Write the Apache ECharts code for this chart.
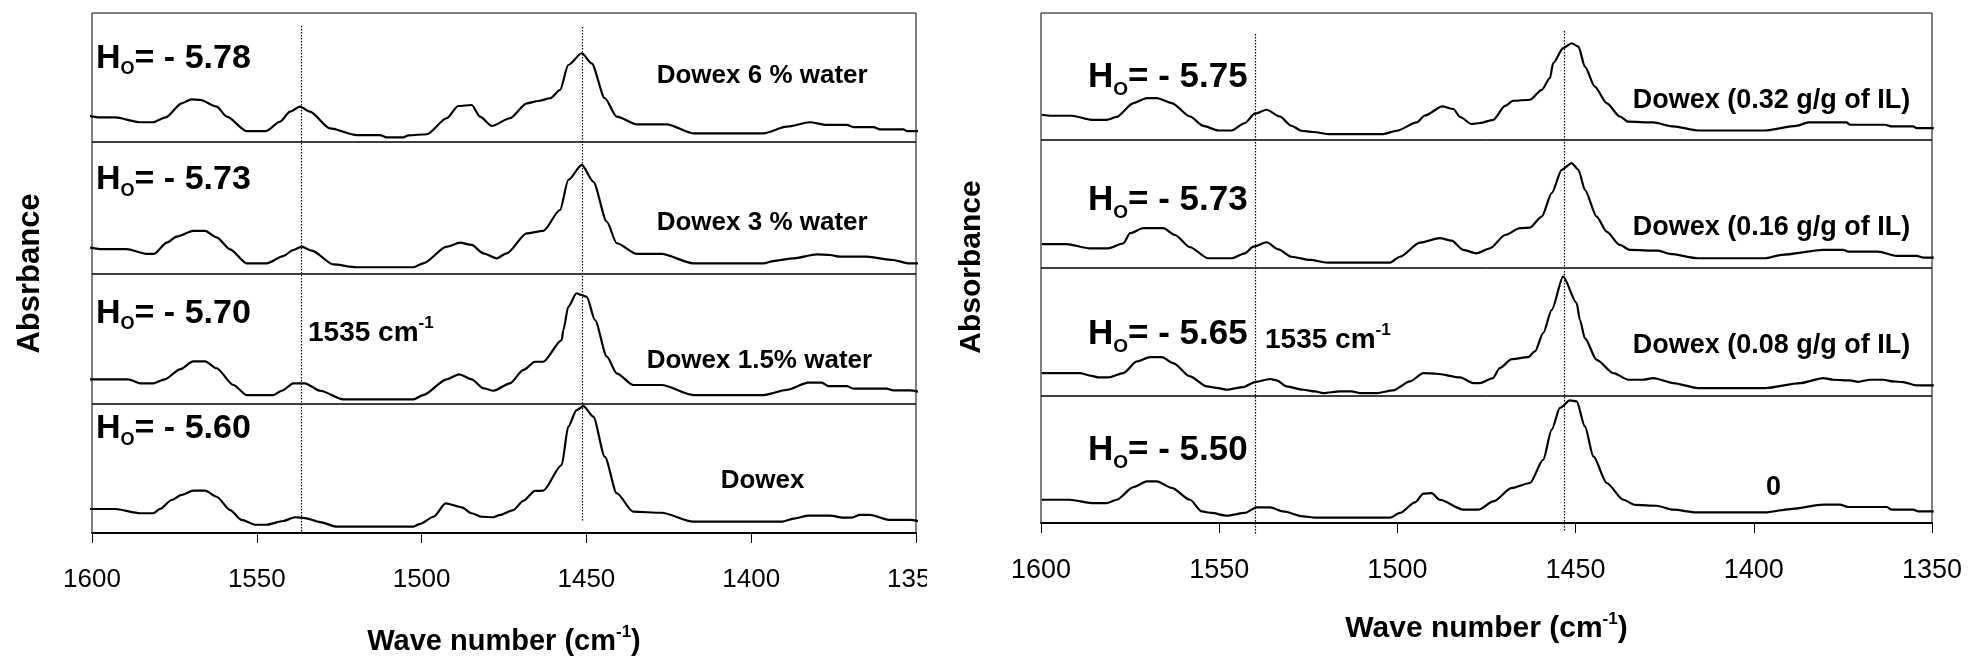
<!DOCTYPE html>
<html>
<head>
<meta charset="utf-8">
<script src="https://cdn.jsdelivr.net/npm/echarts@6/dist/echarts.min.js"></script>
<style>
  html, body { margin: 0; padding: 0; background: #fff; }
  #wrap { position: relative; width: 1970px; height: 659px; overflow: hidden; background: #fff; }
  #left { position: absolute; left: 0; top: 0; width: 927px; height: 659px; }
  #right { position: absolute; left: 927px; top: 0; width: 1043px; height: 659px; }
</style>
</head>
<body>
<div id="wrap"><div id="left"></div><div id="right"></div></div>
<script>
// wave number axis (cm-1), drawn high -> low
const WAVE_MIN = 1350, WAVE_MAX = 1600, WAVE_STEP = 50;

// left figure: Dowex with water, [wave number, absorbance (a.u., panel = 1)]
const dowex6 = [[1601.2,0.204],[1597.6,0.191],[1593.0,0.191],[1585.4,0.153],[1581.5,0.153],[1577.6,0.191],[1572.8,0.300],[1569.8,0.331],[1567.2,0.326],[1562.2,0.274],[1559.1,0.196],[1553.1,0.085],[1547.2,0.085],[1543.0,0.157],[1539.9,0.235],[1536.9,0.274],[1533.9,0.235],[1527.8,0.106],[1519.7,0.054],[1512.6,0.054],[1510.6,0.036],[1505.5,0.036],[1504.0,0.052],[1498.4,0.060],[1492.4,0.184],[1488.9,0.279],[1484.8,0.287],[1482.3,0.196],[1478.7,0.124],[1473.2,0.184],[1468.1,0.300],[1464.6,0.318],[1461.0,0.339],[1458.0,0.403],[1455.5,0.597],[1451.4,0.688],[1448.4,0.610],[1444.4,0.339],[1440.8,0.196],[1434.7,0.137],[1425.6,0.137],[1417.6,0.067],[1396.3,0.067],[1389.2,0.119],[1382.2,0.153],[1377.1,0.132],[1371.0,0.132],[1369.0,0.116],[1362.9,0.116],[1360.9,0.098],[1353.8,0.098],[1352.8,0.085],[1348.0,0.085]];
const dowex3 = [[1601.2,0.202],[1597.6,0.189],[1589.5,0.189],[1583.4,0.152],[1581.2,0.152],[1577.3,0.237],[1574.3,0.283],[1569.3,0.326],[1565.7,0.326],[1562.2,0.278],[1558.1,0.187],[1553.1,0.081],[1547.0,0.081],[1542.0,0.136],[1538.9,0.182],[1536.4,0.207],[1533.3,0.177],[1526.8,0.073],[1519.7,0.051],[1502.5,0.051],[1499.5,0.081],[1492.4,0.207],[1488.3,0.237],[1484.8,0.220],[1481.3,0.157],[1477.2,0.119],[1474.2,0.157],[1468.1,0.308],[1463.1,0.326],[1458.0,0.485],[1455.5,0.712],[1451.4,0.826],[1447.9,0.699],[1443.8,0.396],[1440.8,0.233],[1434.7,0.152],[1427.2,0.152],[1417.6,0.081],[1396.3,0.081],[1393.3,0.098],[1387.2,0.119],[1380.1,0.149],[1376.1,0.144],[1373.1,0.131],[1365.0,0.131],[1356.9,0.106],[1352.4,0.081],[1348.0,0.081]];
const dowex15 = [[1601.2,0.190],[1589.0,0.190],[1585.4,0.159],[1581.4,0.159],[1577.9,0.190],[1573.3,0.267],[1569.3,0.328],[1565.7,0.328],[1562.2,0.275],[1557.1,0.146],[1553.1,0.069],[1545.0,0.069],[1542.4,0.102],[1538.9,0.159],[1535.4,0.159],[1530.8,0.102],[1523.8,0.036],[1502.5,0.036],[1499.5,0.069],[1492.4,0.190],[1488.6,0.228],[1484.8,0.190],[1481.3,0.121],[1478.2,0.102],[1473.2,0.159],[1469.1,0.262],[1465.6,0.325],[1463.1,0.325],[1457.5,0.492],[1457.0,0.569],[1455.5,0.748],[1453.0,0.852],[1451.4,0.838],[1449.9,0.825],[1447.4,0.646],[1443.8,0.364],[1440.8,0.236],[1435.8,0.146],[1427.2,0.146],[1417.6,0.069],[1396.3,0.069],[1389.2,0.108],[1382.7,0.164],[1378.6,0.164],[1376.6,0.138],[1371.0,0.138],[1369.0,0.118],[1358.9,0.118],[1356.9,0.105],[1351.8,0.105],[1348.0,0.087]];
const dowexDry = [[1601.2,0.186],[1593.0,0.186],[1585.4,0.153],[1581.4,0.153],[1579.4,0.186],[1575.8,0.256],[1572.8,0.295],[1569.3,0.328],[1565.7,0.328],[1562.2,0.281],[1558.1,0.178],[1554.6,0.101],[1550.5,0.064],[1547.0,0.064],[1542.0,0.093],[1538.4,0.122],[1535.4,0.116],[1530.8,0.085],[1525.8,0.049],[1502.5,0.049],[1500.5,0.070],[1496.4,0.126],[1492.7,0.230],[1487.8,0.199],[1484.8,0.153],[1481.8,0.126],[1478.2,0.122],[1476.2,0.140],[1472.2,0.178],[1469.1,0.250],[1465.6,0.326],[1463.1,0.328],[1457.5,0.527],[1455.5,0.824],[1453.0,0.953],[1450.9,0.984],[1447.9,0.902],[1444.4,0.591],[1440.8,0.308],[1435.8,0.165],[1427.2,0.157],[1417.6,0.088],[1390.8,0.088],[1386.7,0.114],[1382.7,0.134],[1376.1,0.134],[1372.1,0.119],[1369.5,0.119],[1367.0,0.140],[1364.0,0.140],[1357.9,0.101],[1351.8,0.101],[1348.0,0.085]];

// right figure: Dowex loading in the ionic liquid
const il032 = [[1599.8,0.199],[1597.0,0.191],[1591.4,0.191],[1585.8,0.159],[1581.6,0.159],[1578.8,0.181],[1574.1,0.291],[1570.3,0.330],[1567.5,0.330],[1563.3,0.291],[1558.2,0.185],[1554.5,0.112],[1550.3,0.075],[1546.5,0.075],[1542.8,0.134],[1540.0,0.207],[1536.7,0.238],[1533.0,0.185],[1529.7,0.112],[1526.9,0.073],[1523.6,0.063],[1519.4,0.047],[1504.0,0.047],[1500.2,0.073],[1494.6,0.138],[1492.3,0.193],[1487.4,0.264],[1484.3,0.244],[1482.4,0.181],[1479.2,0.126],[1476.8,0.134],[1473.1,0.159],[1469.8,0.269],[1467.5,0.309],[1462.8,0.317],[1459.5,0.395],[1457.2,0.487],[1456.3,0.605],[1453.5,0.723],[1451.1,0.762],[1449.2,0.735],[1447.4,0.578],[1444.6,0.421],[1441.3,0.291],[1437.6,0.185],[1435.2,0.144],[1428.2,0.138],[1422.6,0.107],[1415.6,0.075],[1396.9,0.075],[1388.0,0.112],[1384.7,0.138],[1374.0,0.138],[1373.0,0.120],[1363.2,0.120],[1361.3,0.107],[1355.3,0.107],[1354.3,0.094],[1349.5,0.094]];
const il016 = [[1599.8,0.186],[1592.8,0.186],[1586.3,0.154],[1581.1,0.154],[1576.9,0.193],[1575.0,0.272],[1571.3,0.311],[1565.7,0.311],[1562.4,0.258],[1558.2,0.162],[1553.1,0.076],[1546.5,0.076],[1542.8,0.115],[1540.4,0.167],[1536.7,0.201],[1533.4,0.146],[1529.7,0.088],[1524.5,0.063],[1519.8,0.042],[1502.1,0.042],[1499.3,0.088],[1493.7,0.198],[1488.1,0.233],[1484.8,0.214],[1481.5,0.141],[1477.8,0.115],[1474.0,0.154],[1469.8,0.258],[1465.6,0.311],[1462.8,0.316],[1459.5,0.402],[1456.7,0.585],[1453.9,0.767],[1451.1,0.820],[1449.2,0.767],[1447.4,0.611],[1444.1,0.402],[1441.3,0.284],[1437.6,0.180],[1434.7,0.141],[1426.8,0.135],[1423.5,0.110],[1415.6,0.076],[1396.9,0.076],[1392.2,0.102],[1380.5,0.141],[1374.9,0.141],[1373.5,0.128],[1365.1,0.128],[1359.9,0.094],[1354.3,0.094],[1352.4,0.081],[1349.5,0.081]];
const il008 = [[1599.8,0.179],[1589.1,0.179],[1585.8,0.158],[1583.9,0.145],[1581.1,0.145],[1576.9,0.179],[1573.1,0.270],[1569.4,0.304],[1566.1,0.304],[1562.9,0.257],[1558.2,0.153],[1553.5,0.075],[1550.3,0.062],[1547.9,0.049],[1543.2,0.070],[1540.0,0.109],[1535.7,0.133],[1533.9,0.122],[1531.1,0.075],[1526.4,0.049],[1523.1,0.036],[1520.8,0.023],[1516.1,0.036],[1512.8,0.036],[1510.5,0.023],[1505.8,0.023],[1501.2,0.044],[1496.5,0.114],[1492.7,0.179],[1489.0,0.174],[1482.4,0.145],[1478.7,0.101],[1476.8,0.101],[1473.2,0.140],[1471.3,0.218],[1467.9,0.288],[1463.3,0.304],[1461.4,0.348],[1459.1,0.491],[1456.7,0.673],[1453.5,0.932],[1449.7,0.725],[1448.8,0.595],[1447.4,0.452],[1444.1,0.283],[1439.4,0.179],[1435.2,0.127],[1431.0,0.127],[1428.2,0.140],[1422.6,0.101],[1415.6,0.062],[1396.9,0.062],[1387.0,0.101],[1380.5,0.140],[1377.7,0.127],[1373.0,0.122],[1370.7,0.111],[1367.4,0.127],[1363.7,0.127],[1360.9,0.114],[1358.1,0.109],[1354.3,0.083],[1349.5,0.083]];
const il000 = [[1599.8,0.183],[1591.9,0.183],[1585.8,0.157],[1581.6,0.157],[1578.8,0.183],[1574.1,0.283],[1570.3,0.328],[1567.5,0.328],[1563.3,0.276],[1558.2,0.183],[1554.9,0.091],[1552.1,0.079],[1547.9,0.057],[1542.8,0.079],[1539.5,0.123],[1535.7,0.123],[1532.0,0.091],[1526.4,0.052],[1523.1,0.042],[1502.1,0.042],[1499.3,0.079],[1495.1,0.162],[1492.7,0.231],[1490.4,0.236],[1488.1,0.183],[1481.5,0.105],[1477.3,0.105],[1473.1,0.170],[1467.9,0.276],[1462.8,0.315],[1459.1,0.498],[1456.7,0.735],[1454.4,0.906],[1451.6,0.965],[1449.7,0.957],[1447.4,0.761],[1445.0,0.524],[1441.3,0.315],[1436.6,0.183],[1433.3,0.142],[1427.3,0.136],[1422.6,0.105],[1416.0,0.083],[1396.9,0.083],[1389.8,0.110],[1380.5,0.144],[1375.8,0.144],[1373.5,0.126],[1362.7,0.126],[1361.3,0.105],[1355.3,0.105],[1353.9,0.091],[1349.5,0.091]];

const leftSamples = ['Dowex 6 % water', 'Dowex 3 % water', 'Dowex 1.5% water', 'Dowex'];
const leftHammett = ['5.78', '5.73', '5.70', '5.60'];
const rightSamples = ['Dowex (0.32 g/g of IL)', 'Dowex (0.16 g/g of IL)', 'Dowex (0.08 g/g of IL)', '0'];
const rightHammett = ['5.75', '5.73', '5.65', '5.50'];
const bandLabel = '1535 cm';
// dotted guides (wave number) as drawn in each figure
const leftGuides = [1536.6, 1451.2];
const rightGuides = [1540.0, 1453.2];

const FONT = '"Liberation Sans", Arial, Helvetica, sans-serif';

function buildOption(spectra, lay) {
  const grid = [], xAxis = [], yAxis = [], series = [];
  spectra.forEach((data, i) => {
    const last = i === spectra.length - 1;
    grid.push({
      left: lay.left, right: lay.right, top: lay.tops[i], height: lay.heights[i],
      show: true, borderColor: '#000', borderWidth: 1, backgroundColor: 'transparent',
      containLabel: false, outerBoundsMode: 'none'
    });
    xAxis.push({
      type: 'value', gridIndex: i, min: WAVE_MIN, max: WAVE_MAX, interval: WAVE_STEP, inverse: true,
      axisLine: { show: last, onZero: false, lineStyle: { color: '#000', width: 2 } },
      axisTick: { show: last, length: 10, lineStyle: { color: '#000', width: 1 } },
      axisLabel: { show: last, margin: 34, fontSize: lay.tickSize, color: '#000', fontFamily: FONT,
        formatter: v => String(v) },
      splitLine: { show: false }
    });
    yAxis.push({ type: 'value', gridIndex: i, min: 0, max: 1, show: false, splitLine: { show: false } });
    series.push({
      type: 'line', xAxisIndex: i, yAxisIndex: i, data: data,
      showSymbol: false, symbol: 'none', clip: false, smooth: 0.25, smoothMonotone: 'x',
      lineStyle: { color: '#000', width: 2.2 }, silent: true
    });
  });
  return { animation: false, backgroundColor: '#fff', grid, xAxis, yAxis, series };
}

function hammett(value, x, cy, size, subSize, lineH, subLH) {
  return {
    type: 'text', x: x, y: cy, silent: true,
    style: {
      text: '{m|H}{s|O}{m|= - ' + value + '}', align: 'left', verticalAlign: 'middle',
      rich: {
        m: { fontSize: size, fontWeight: 'bold', fontFamily: FONT, lineHeight: lineH, fill: '#000' },
        s: { fontSize: subSize, fontWeight: 'bold', fontFamily: FONT, lineHeight: subLH, verticalAlign: 'bottom', fill: '#000' }
      }
    }
  };
}

function supText(main, sup, tail, x, cy, size, supSize, align) {
  return {
    type: 'text', x: x, y: cy, silent: true,
    style: {
      text: '{m|' + main + '}{p|' + sup + '}' + (tail ? '{m|' + tail + '}' : ''),
      align: align, verticalAlign: 'middle',
      rich: {
        m: { fontSize: size, fontWeight: 'bold', fontFamily: FONT, lineHeight: 36, fill: '#000' },
        p: { fontSize: supSize, fontWeight: 'bold', fontFamily: FONT, lineHeight: 12, verticalAlign: 'top', fill: '#000' }
      }
    }
  };
}

function plain(text, x, cy, size, align, rotation) {
  return {
    type: 'text', x: x, y: cy, rotation: rotation || 0, silent: true,
    style: { text: text, align: align, verticalAlign: 'middle', fontSize: size, fontWeight: 'bold', fontFamily: FONT, fill: '#000' }
  };
}

function guideLines(chart, guides, axisIndex, spans) {
  return guides.map((w, k) => {
    const x = Math.round(chart.convertToPixel({ xAxisIndex: axisIndex }, w)) + 0.5;
    return {
      type: 'line', silent: true,
      shape: { x1: x, y1: spans[k][0], x2: x, y2: spans[k][1] },
      style: { stroke: '#000', lineWidth: 1.2, lineDash: [1.5, 1.5] }
    };
  });
}

// ---- left figure ----
const leftChart = echarts.init(document.getElementById('left'), null, { renderer: 'canvas' });
leftChart.setOption(buildOption([dowex6, dowex3, dowex15, dowexDry], {
  left: 92, right: 11, tops: [13, 142, 274, 404], heights: [129, 132, 130, 129], tickSize: 26
}));
const leftHY = [58.5, 180, 313.3, 428.7];
const leftSY = [75.5, 223.3, 361.3, 481.2];
const leftSX = [656.7, 656.7, 646.7, 720.7];
let leftGraphics = guideLines(leftChart, leftGuides, 3, [[26, 533], [27, 522]]);
leftHammett.forEach((v, i) => leftGraphics.push(hammett(v, 96, leftHY[i], 34, 18, 40, 12)));
leftSamples.forEach((s, i) => leftGraphics.push(plain(s, leftSX[i], leftSY[i], 26, 'left')));
leftGraphics.push(supText(bandLabel, '-1', '', 308, 333, 28, 17, 'left'));
leftGraphics.push(plain('Absrbance', 30, 273.5, 31, 'center', Math.PI / 2));
leftGraphics.push(supText('Wave number (cm', '-1', ')', 504, 642, 29, 17, 'center'));
leftChart.setOption({ graphic: { elements: leftGraphics } });

// ---- right figure ----
const OFF = 927;
const rightChart = echarts.init(document.getElementById('right'), null, { renderer: 'canvas' });
rightChart.setOption(buildOption([il032, il016, il008, il000], {
  left: 1041 - OFF, right: 1043 - (1932 - OFF), tops: [13, 140, 268, 396], heights: [127, 128, 128, 127], tickSize: 27
}));
const rightHY = [77.5, 200.3, 334, 450.5];
const rightSY = [100.5, 227.3, 345.5, 487.3];
let rightGraphics = guideLines(rightChart, rightGuides, 3, [[34, 535], [31, 531]]);
rightHammett.forEach((v, i) => rightGraphics.push(hammett(v, 1088 - OFF, rightHY[i], 35, 19, 44, 13)));
rightSamples.forEach((s, i) => {
  if (i < 3) rightGraphics.push(plain(s, 1632.7 - OFF, rightSY[i], 27, 'left'));
  else rightGraphics.push(plain(s, 1773.5 - OFF, rightSY[i], 27, 'center'));
});
rightGraphics.push(supText(bandLabel, '-1', '', 1265 - OFF, 340, 28, 17, 'left'));
rightGraphics.push(plain('Absorbance', 971.7 - OFF, 267, 30, 'center', Math.PI / 2));
rightGraphics.push(supText('Wave number (cm', '-1', ')', 1486.5 - OFF, 629, 30, 17, 'center'));
rightChart.setOption({ graphic: { elements: rightGraphics } });
</script>
</body>
</html>
